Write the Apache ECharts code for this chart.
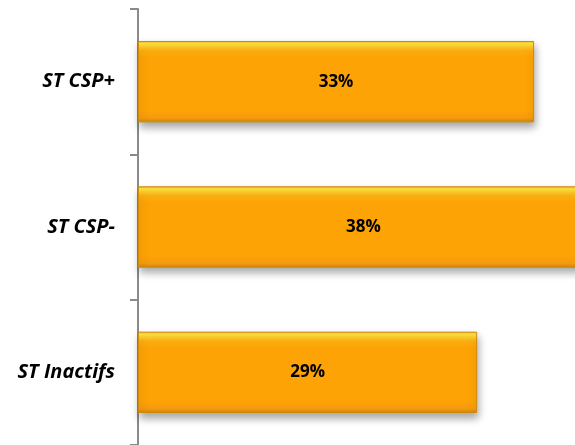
<!DOCTYPE html>
<html><head><meta charset="utf-8">
<script src="https://cdn.jsdelivr.net/npm/echarts@6/dist/echarts.min.js"></script>
<style>html,body{margin:0;padding:0;background:#fff}#c{width:575px;height:445px}</style>
</head><body><div id="c"></div>
<script>
const categories = ['ST CSP+', 'ST CSP-', 'ST Inactifs'];
const values = [33.4, 38.0, 28.6];
const labels = ['33%', '38%', '29%'];

const chart = echarts.init(document.getElementById('c'));
chart.setOption({
  animation: false,
  grid: { left: 138, right: 0, top: 9, bottom: -1, containLabel: false },
  xAxis: { type: 'value', min: 0, max: 36.85, show: false },
  yAxis: {
    type: 'category', data: categories, inverse: true,
    axisLine: { lineStyle: { color: '#8a8a8a', width: 2 } },
    axisTick: { show: true, length: 8, lineStyle: { color: '#8a8a8a', width: 2 } },
    axisLabel: { margin: 23, color: '#000', fontFamily: 'Open Sans', fontWeight: 'bold', fontStyle: 'italic', fontSize: 20 }
  },
  series: [{
    type: 'bar', data: values, barCategoryGap: '44%', clip: false,
    itemStyle: {
      color: new echarts.graphic.LinearGradient(0, 0, 0, 1, [
        { offset: 0, color: '#f2a21a' },
        { offset: 0.03, color: '#ffe640' },
        { offset: 0.12, color: '#ffb010' },
        { offset: 0.2, color: '#fda305' },
        { offset: 0.85, color: '#fda305' },
        { offset: 0.95, color: '#f59a10' },
        { offset: 1, color: '#c8860c' }
      ]),
      borderColor: '#d08a0a', borderWidth: 1,
      shadowColor: 'rgba(0,0,0,0.35)', shadowBlur: 8, shadowOffsetY: 5, shadowOffsetX: 1
    },
    label: {
      show: true, position: 'inside', color: '#000', fontFamily: 'Open Sans', fontWeight: 'bold', fontSize: 17,
      formatter: p => labels[p.dataIndex]
    }
  }]
});
</script></body></html>
